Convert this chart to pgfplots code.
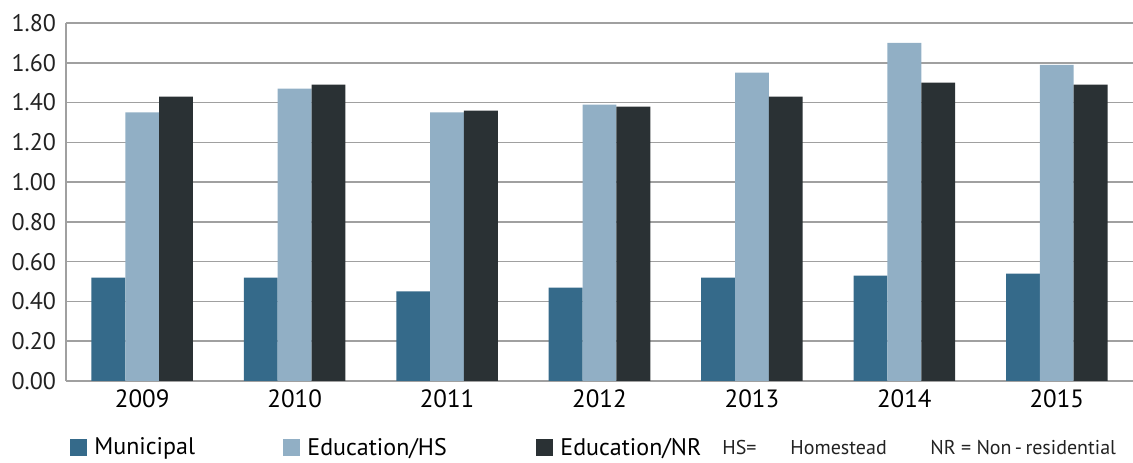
\documentclass[border=0pt]{standalone}
\usepackage{fontspec}
\setmainfont{PT Sans}
\usepackage{pgfplots}
\pgfplotsset{compat=1.18}
\definecolor{muni}{HTML}{356A8A}
\definecolor{eduhs}{HTML}{91AFC5}
\definecolor{edunr}{HTML}{2A3134}
\definecolor{gridc}{HTML}{A0A0A0}
\definecolor{txt}{HTML}{222222}
\pgfplotsset{mylegend/.style={legend image code/.code={\fill[##1] (0pt,-4.25pt) rectangle (8.5pt,4.25pt);}}}
\begin{document}
\begin{tikzpicture}
\begin{axis}[name=ax, scale only axis, width=533.5pt, height=179pt,
  xmin=-0.5, xmax=6.5, ymin=0, ymax=1.8,
  xtick={0,1,2,3,4,5,6}, xticklabels={2009,2010,2011,2012,2013,2014,2015},
  ytick={0,0.2,0.4,0.6,0.8,1.0,1.2,1.4,1.6,1.8},
  tick label style={font=\fontsize{12}{14}\selectfont, text=txt},
  yticklabel style={xshift=-1.5pt, /pgf/number format/.cd, fixed, fixed zerofill, precision=2, assume math mode=true},
  xticklabel style={text=black, font=\fontsize{12.5}{14}\selectfont, yshift=-1pt},
  axis lines*=left,
  axis line style={gridc, line width=0.8pt, -},
  ymajorgrids, grid style={gridc, line width=0.8pt},
  major tick length=0pt,
  ybar=0pt, bar width=0.222,
  legend style={at={(0,0)}, anchor=west, xshift=2pt, yshift=-33.5pt, draw=none, fill=none, inner sep=0pt,
    font=\fontsize{12}{14}\selectfont, /tikz/every even column/.append style={column sep=0pt}},
  legend columns=3,
]
\addplot[fill=muni, draw=none, mylegend] coordinates {(0,0.52) (1,0.52) (2,0.45) (3,0.47) (4,0.52) (5,0.53) (6,0.54)};
\addlegendentry{\makebox[94pt][l]{\hspace{1.5pt}Municipal}}
\addplot[fill=eduhs, draw=none, mylegend] coordinates {(0,1.35) (1,1.47) (2,1.35) (3,1.39) (4,1.55) (5,1.70) (6,1.59)};
\addlegendentry{\makebox[114pt][l]{\hspace{1.5pt}Education/HS}}
\addplot[fill=edunr, draw=none, mylegend] coordinates {(0,1.43) (1,1.49) (2,1.36) (3,1.38) (4,1.43) (5,1.50) (6,1.49)};
\addlegendentry{\hspace{1.5pt}Education/NR}
\end{axis}
\node[anchor=west, inner sep=0pt, font=\fontsize{10}{12}\selectfont, text=txt] at ([xshift=328pt, yshift=-33.5pt]ax.south west) {HS=};
\node[anchor=west, inner sep=0pt, font=\fontsize{10}{12}\selectfont, text=txt] at ([xshift=362pt, yshift=-33.5pt]ax.south west) {Homestead};
\node[anchor=west, inner sep=0pt, font=\fontsize{10}{12}\selectfont, text=txt] at ([xshift=432pt, yshift=-33.5pt]ax.south west) {NR = Non\,-\,residential};
\pgfresetboundingbox
\path[use as bounding box] ([xshift=-33pt, yshift=-41pt]ax.south west) rectangle ([yshift=11.5pt]ax.north east);
\end{tikzpicture}
\end{document}
